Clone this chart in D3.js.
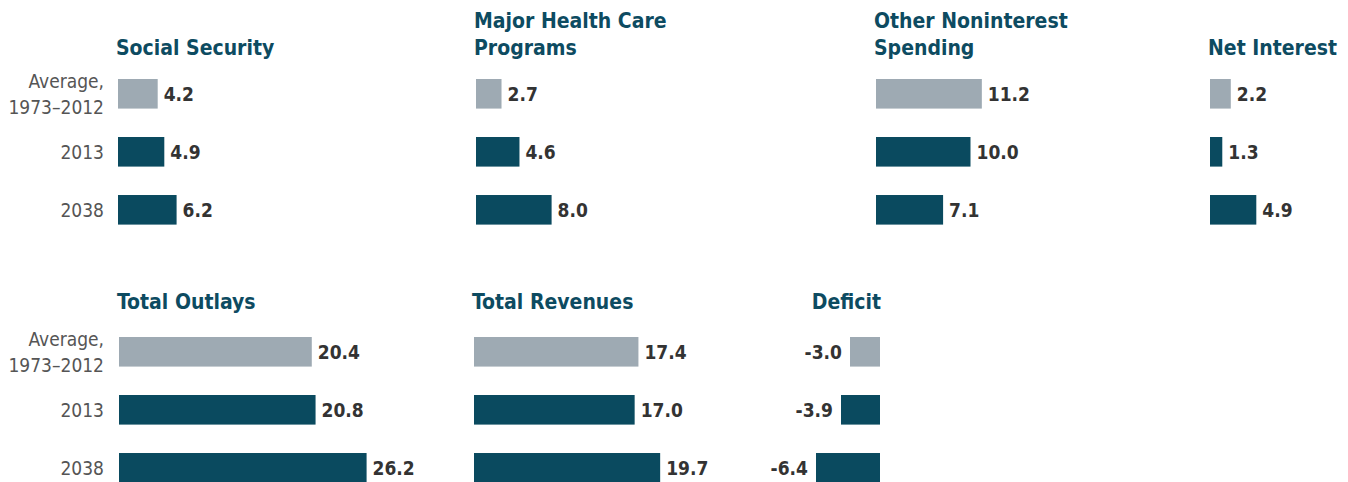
<!DOCTYPE html>
<html>
<head>
<meta charset="UTF-8">
<script src="https://cdn.jsdelivr.net/npm/d3@7"></script>
<style>
  body { margin: 0; background: #fff; }
  svg { display: block; }
  .title { font-family: "DejaVu Sans Condensed", Roboto, sans-serif; font-weight: bold; fill: #0d4b61; font-size: 21px; }
  .cat { font-family: "DejaVu Sans Condensed", sans-serif; fill: #555; font-size: 19px; }
  .val { font-family: "DejaVu Sans Condensed", sans-serif; font-weight: bold; fill: #333; font-size: 19px; }
</style>
</head>
<body>
<script>
  // categories (same for every panel)
  const categories = ["Average, 1973\u20132012", "2013", "2038"];

  // values, percentage of GDP
  const socialSecurity = [4.2, 4.9, 6.2];
  const healthCare = [2.7, 4.6, 8.0];
  const otherSpending = [11.2, 10.0, 7.1];
  const netInterest = [2.2, 1.3, 4.9];
  const totalOutlays = [20.4, 20.8, 26.2];
  const totalRevenues = [17.4, 17.0, 19.7];
  const deficit = [-3.0, -3.9, -6.4];

  const w = 1348;
  const h = 482;
  const grey = "#9eaab3";
  const teal = "#0a4a5f";

  const svg = d3.select("body").append("svg")
    .attr("width", w)
    .attr("height", h);

  // one pixel scale for the bars, 9.45 px per point of GDP
  const xScale = d3.scaleLinear().domain([0, 30]).range([0, 283.5]);
  // the deficit bars are drawn a bit wider in the original
  const defScale = d3.scaleLinear().domain([-7, 0]).range([-70, 0]);

  const panels = [
    { title: ["Social Security"], values: socialSecurity, x: 118, row: 0 },
    { title: ["Major Health Care", "Programs"], values: healthCare, x: 476, row: 0 },
    { title: ["Other Noninterest", "Spending"], values: otherSpending, x: 876, row: 0 },
    { title: ["Net Interest"], values: netInterest, x: 1210, row: 0 },
    { title: ["Total Outlays"], values: totalOutlays, x: 119, row: 1 },
    { title: ["Total Revenues"], values: totalRevenues, x: 474, row: 1 },
    { title: ["Deficit"], values: deficit, x: 880, row: 1, neg: true }
  ];

  const rowTop = [79, 337];
  const titleBase = [55, 309];

  function yFor(row) {
    return d3.scaleBand()
      .domain(categories)
      .range([rowTop[row], rowTop[row] + 145.6])
      .paddingInner(0.49);
  }

  panels.forEach(p => {
    const y = yFor(p.row);
    const g = svg.append("g").attr("transform", "translate(" + p.x + ",0)");

    // title, last line sits on the row's title baseline
    const n = p.title.length;
    g.selectAll("text.title")
      .data(p.title)
      .enter()
      .append("text")
      .attr("class", "title")
      .attr("x", p.neg ? 1 : -2)
      .attr("y", (d, i) => titleBase[p.row] - (n - 1 - i) * 27)
      .attr("text-anchor", p.neg ? "end" : "start")
      .text(d => d);

    g.selectAll("rect")
      .data(p.values)
      .enter()
      .append("rect")
      .attr("x", d => p.neg ? defScale(d) : 0)
      .attr("y", (d, i) => y(categories[i]))
      .attr("width", d => p.neg ? -defScale(d) : xScale(d))
      .attr("height", y.bandwidth())
      .attr("fill", (d, i) => i === 0 ? grey : teal);

    g.selectAll("text.val")
      .data(p.values)
      .enter()
      .append("text")
      .attr("class", "val")
      .attr("x", d => p.neg ? defScale(d) - 8 : xScale(d) + 6)
      .attr("y", (d, i) => y(categories[i]) + y.bandwidth() / 2 + 7)
      .attr("text-anchor", p.neg ? "end" : "start")
      .text(d => d.toFixed(1));
  });

  // category labels on the left of both rows
  [0, 1].forEach(row => {
    const y = yFor(row);
    const g = svg.append("g");
    categories.forEach((c, i) => {
      const cy = y(c) + y.bandwidth() / 2;
      const lines = c.split(", ");
      if (lines.length > 1) {
        g.append("text").attr("class", "cat").attr("text-anchor", "end")
          .attr("x", 104).attr("y", cy - 6).text(lines[0] + ",");
        g.append("text").attr("class", "cat").attr("text-anchor", "end")
          .attr("x", 104).attr("y", cy + 20).text(lines[1]);
      } else {
        g.append("text").attr("class", "cat").attr("text-anchor", "end")
          .attr("x", 104).attr("y", cy + 7).text(c);
      }
    });
  });
</script>
</body>
</html>
